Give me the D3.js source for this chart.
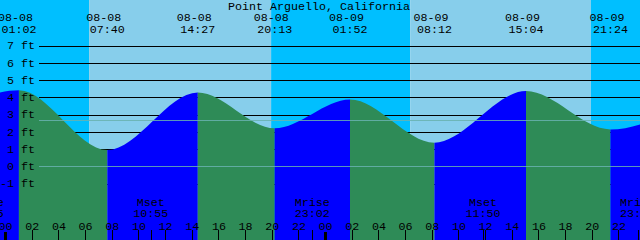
<!DOCTYPE html>
<html lang="en">
<head>
<meta charset="utf-8">
<title>Point Arguello tides</title>
<script src="https://d3js.org/d3.v7.min.js"></script>
<style>
  body { margin: 0; background: #fff; }
  svg { display: block; }
  text { font-family: "Liberation Mono", "DejaVu Sans Mono", monospace; font-size: 11.67px; fill: #000; }
</style>
</head>
<body>
<svg id="chart" width="640" height="240"></svg>
<script>
// ---- data ----
var title = "Point Arguello, California";
var timeDomain = ["2023-08-07 23:37", "2023-08-09 23:37"];

// sunrise / sunset (night -> day -> night ...)
var sunTimes = ["2023-08-08 06:18", "2023-08-08 19:57", "2023-08-09 06:23", "2023-08-09 19:56"];

// high / low tides (first and last lie outside the window)
var tideTimes = ["2023-08-07 19:10", "2023-08-08 01:02", "2023-08-08 07:40", "2023-08-08 14:27",
                 "2023-08-08 20:13", "2023-08-09 01:52", "2023-08-09 08:12", "2023-08-09 15:04",
                 "2023-08-09 21:24", "2023-08-10 03:30"];
var tideHeights = [2.8, 4.41, 0.94, 4.28, 2.20, 3.87, 1.37, 4.36, 2.14, 3.8];

var moonEvents = ["Mrise", "Mset", "Mrise", "Mset", "Mrise"];
var moonTimes = ["2023-08-07 22:35", "2023-08-08 10:55", "2023-08-08 23:02", "2023-08-09 11:50", "2023-08-09 23:26"];

var feetTicks = [-1, 0, 1, 2, 3, 4, 5, 6, 7];
var meanLevel = 2.67;

// ---- setup ----
var parse = d3.timeParse("%Y-%m-%d %H:%M");
var svg = d3.select("#chart");
var W = 640, H = 240;

var x = d3.scaleTime().domain(timeDomain.map(parse)).range([0, W]);
var y = d3.scaleLinear().domain([0, 7]).range([166.3, 45.6]);
var crisp = function(v){ return Math.round(v) + 0.5; };

var tides = tideTimes.map(function(t, i){ return {time: parse(t), h: tideHeights[i]}; });

// sky: night / day bands
var bounds = [x.domain()[0]].concat(sunTimes.map(parse), [x.domain()[1]]);
var bands = d3.pairs(bounds).map(function(p, i){ return {t0: p[0], t1: p[1], night: i % 2 == 0}; });
svg.append("g").selectAll("rect").data(bands).enter().append("rect")
    .attr("x", function(d){ return x(d.t0); })
    .attr("width", function(d){ return x(d.t1) - x(d.t0); })
    .attr("y", 0).attr("height", H)
    .attr("fill", function(d){ return d.night ? "#00bfff" : "#87ceeb"; });

// black foot lines (behind the water)
svg.append("g").selectAll("line").data(feetTicks.filter(function(f){ return f != 0; })).enter().append("line")
    .attr("x1", 39).attr("x2", W)
    .attr("y1", function(d){ return crisp(y(d)); }).attr("y2", function(d){ return crisp(y(d)); })
    .attr("stroke", "#000").attr("shape-rendering", "crispEdges");

// water: area clip, coloured rising (blue) / falling (green)
var area = d3.area()
    .x(function(d){ return x(d.time); })
    .y0(H)
    .y1(function(d){ return y(d.h); })
    .curve(d3.curveMonotoneX);

svg.append("clipPath").attr("id", "water")
  .append("path").attr("d", area(tides));

var segs = d3.pairs(tides);
svg.append("g").attr("clip-path", "url(#water)")
  .selectAll("rect").data(segs).enter().append("rect")
    .attr("x", function(d){ return x(d[0].time); })
    .attr("width", function(d){ return x(d[1].time) - x(d[0].time); })
    .attr("y", 0).attr("height", H)
    .attr("fill", function(d){ return d[1].h > d[0].h ? "#0000ff" : "#2e8b57"; });

// datum and mean lines on top
svg.append("g").selectAll("line").data([0, meanLevel]).enter().append("line")
    .attr("x1", 39).attr("x2", W)
    .attr("y1", function(d){ return crisp(y(d)); }).attr("y2", function(d){ return crisp(y(d)); })
    .attr("stroke", "rgb(105,178,175)").attr("stroke-opacity", 0.85)
    .attr("shape-rendering", "crispEdges");

// foot labels
svg.append("g").selectAll("text").data(feetTicks).enter().append("text")
    .attr("x", 35).attr("y", function(d){ return y(d) + 3.8; })
    .attr("text-anchor", "end")
    .text(function(d){ return d + " ft"; });

// header
svg.append("text").attr("x", 319).attr("y", 9.5).attr("text-anchor", "middle").text(title);

var shown = tides.filter(function(d){ return d.time >= x.domain()[0] && d.time <= x.domain()[1]; });
var head = svg.append("g").selectAll("g").data(shown).enter().append("g")
    .attr("transform", function(d){ return "translate(" + x(d.time) + ",0)"; });
head.append("text").attr("x", -3.5).attr("y", 20.5).attr("text-anchor", "middle")
    .text(function(d){ return d3.timeFormat("%m-%d")(d.time); });
head.append("text").attr("y", 32.5).attr("text-anchor", "middle")
    .text(function(d){ return d3.timeFormat("%H:%M")(d.time); });

// moon events
var moon = moonTimes.map(function(t, i){ return {time: parse(t), name: moonEvents[i]}; });
var mg = svg.append("g").selectAll("g").data(moon).enter().append("g")
    .attr("transform", function(d){ return "translate(" + x(d.time) + ",0)"; });
mg.append("text").attr("y", 205.5).attr("text-anchor", "middle").text(function(d){ return d.name; });
mg.append("text").attr("y", 217).attr("text-anchor", "middle")
    .text(function(d){ return d3.timeFormat("%H:%M")(d.time); });
mg.append("line").attr("x1", 0.5).attr("x2", 0.5).attr("y1", 230).attr("y2", H)
    .attr("stroke", "#000").attr("shape-rendering", "crispEdges");

// hour axis along the bottom
var axis = d3.axisTop(x)
    .ticks(d3.timeHour.every(2))
    .tickFormat(d3.timeFormat("%H"))
    .tickSize(10)
    .tickPadding(1);

var ax = svg.append("g").attr("transform", "translate(0," + H + ")").call(axis);
ax.select(".domain").remove();
ax.selectAll("text").attr("font-family", null).attr("font-size", null).attr("dy", "0.5px");
ax.selectAll(".tick line").attr("shape-rendering", "crispEdges");
ax.selectAll(".tick").filter(function(d){ return d.getHours() == 0; })
  .select("line").attr("stroke-width", 3).attr("y2", -8);
</script>
</body>
</html>
